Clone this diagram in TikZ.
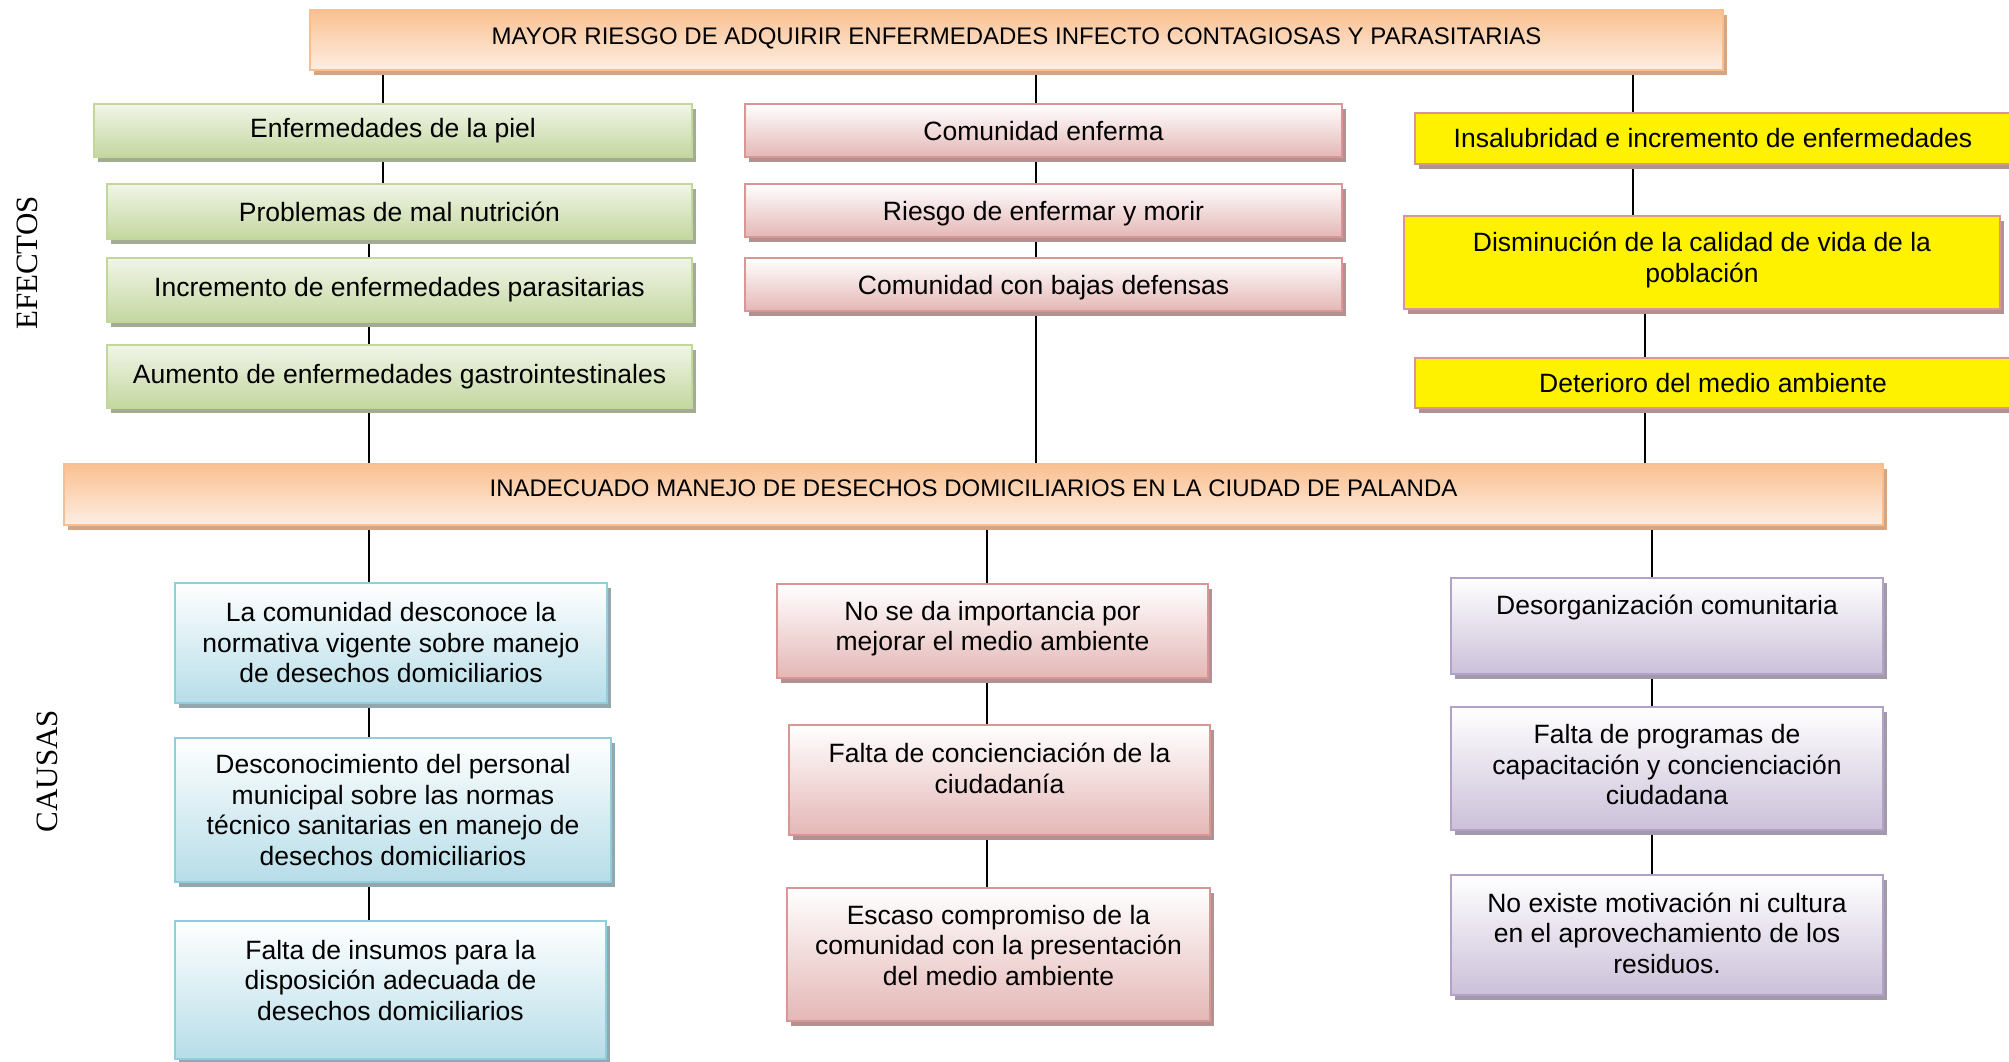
\documentclass[tikz,border=0pt]{standalone}
\usepackage{fontspec}
\setmainfont{Liberation Sans}
\newfontfamily\tnr{Liberation Serif}
\usetikzlibrary{shadows}
\pgfdeclarelayer{background}
\pgfsetlayers{background,main}
\definecolor{orTop}{HTML}{FAC090}
\definecolor{orBot}{HTML}{FDEEE3}
\definecolor{orBd}{HTML}{F9BE8F}
\definecolor{orSh}{HTML}{D3A583}
\definecolor{grTop}{HTML}{F0F5E8}
\definecolor{grBot}{HTML}{C4D79F}
\definecolor{grBd}{HTML}{C3D69B}
\definecolor{grSh}{HTML}{A2AC93}
\definecolor{pkBot}{HTML}{E4B7B6}
\definecolor{pkBd}{HTML}{D99694}
\definecolor{pkSh}{HTML}{B09292}
\definecolor{blBot}{HTML}{B6DDE8}
\definecolor{blBd}{HTML}{92CDDC}
\definecolor{blSh}{HTML}{93A8AE}
\definecolor{puBot}{HTML}{CBC0D9}
\definecolor{puBd}{HTML}{B2A2C7}
\definecolor{puSh}{HTML}{A29AAB}
\newcommand\lowr[1]{\rule[-#1pt]{0pt}{#1pt}}
\tikzset{
  bx/.style={rectangle, inner sep=0pt, line width=2pt, align=center,
    font=\fontsize{26.5}{30.5}\selectfont},
  sh/.style={general shadow={fill=#1, shadow xshift=4pt, shadow yshift=-5pt}},
  orbox/.style={bx, draw=orBd, top color=orTop, bottom color=orBot, sh=orSh,
    font=\fontsize{24}{28}\selectfont},
  grbox/.style={bx, draw=grBd, top color=grTop, bottom color=grBot, sh=grSh},
  pkbox/.style={bx, draw=pkBd, top color=white, bottom color=pkBot, sh=pkSh},
  ylbox/.style={bx, draw=pkBd, fill=yellow, sh=pkSh},
  blbox/.style={bx, draw=blBd, top color=white, bottom color=blBot, sh=blSh},
  pubox/.style={bx, draw=puBd, top color=white, bottom color=puBot, sh=puSh},
  oneline/.style={text height=19.5pt, text depth=0pt},
  conn/.style={line width=1.5pt, black},
  lbl/.style={inner sep=0pt, font=\tnr\fontsize{31}{36}\selectfont}
}
\begin{document}
\begin{tikzpicture}[x=1pt, y=-1pt]
\useasboundingbox (0,0) rectangle (2009,1062);
\clip (0,0) rectangle (2009,1062);

% main problem boxes
\node[orbox, minimum width=1413pt, minimum height=60pt] (T) at (1016.5,40)
  {MAYOR RIESGO DE ADQUIRIR ENFERMEDADES INFECTO CONTAGIOSAS Y PARASITARIAS\lowr{8}};
\node[orbox, minimum width=1819pt, minimum height=61pt] (M) at (973.5,494.5)
  {INADECUADO MANEJO DE DESECHOS DOMICILIARIOS EN LA CIUDAD DE PALANDA\lowr{12}};

% effects - green
\node[grbox, minimum width=598pt, minimum height=53pt] (g1) at (393,130.5) {Enfermedades de la piel};
\node[grbox, minimum width=585pt, minimum height=55pt] (g2) at (399.5,211.5) {Problemas de mal nutrición};
\node[grbox, minimum width=585pt, minimum height=64pt] (g3) at (399.5,290) {Incremento de enfermedades parasitarias};
\node[grbox, minimum width=585pt, minimum height=63pt] (g4) at (399.5,376.5) {Aumento de enfermedades gastrointestinales};

% effects - pink
\node[pkbox, oneline, minimum width=597pt, minimum height=53pt] (p1) at (1043.5,130.5) {Comunidad enferma};
\node[pkbox, oneline, minimum width=597pt, minimum height=53pt] (p2) at (1043.5,210.5) {Riesgo de enfermar y morir};
\node[pkbox, oneline, minimum width=597pt, minimum height=53pt] (p3) at (1043.5,284.5) {Comunidad con bajas defensas};

% effects - yellow
\node[ylbox, minimum width=596pt, minimum height=51pt] (y1) at (1713,138.5) {Insalubridad e incremento de enfermedades};
\node[ylbox, minimum width=596pt, minimum height=93pt] (y2) at (1702,262.5) {Disminución de la calidad de vida de la\\población\lowr{11}};
\node[ylbox, minimum width=596pt, minimum height=50pt] (y3) at (1713,383) {Deterioro del medio ambiente};

% causes - blue
\node[blbox, minimum width=432pt, minimum height=120pt] (b1) at (391,643)
  {La comunidad desconoce la\\normativa vigente sobre manejo\\de desechos domiciliarios};
\node[blbox, minimum width=436pt, minimum height=144pt] (b2) at (393,810)
  {Desconocimiento del personal\\municipal sobre las normas\\técnico sanitarias en manejo de\\desechos domiciliarios};
\node[blbox, minimum width=431pt, minimum height=138pt] (b3) at (390.5,990)
  {Falta de insumos para la\\disposición adecuada de\\desechos domiciliarios\lowr{20}};

% causes - pink
\node[pkbox, minimum width=431pt, minimum height=94pt] (q1) at (992.5,631)
  {No se da importancia por\\mejorar el medio ambiente\lowr{10}};
\node[pkbox, minimum width=421pt, minimum height=110pt] (q2) at (999.5,780)
  {Falta de concienciación de la\\ciudadanía\lowr{24}};
\node[pkbox, minimum width=423pt, minimum height=133pt] (q3) at (998.5,954.5)
  {Escaso compromiso de la\\comunidad con la presentación\\del medio ambiente\lowr{19}};

% causes - purple
\node[pubox, minimum width=432pt, minimum height=96pt] (u1) at (1667,626)
  {Desorganización comunitaria\lowr{42}};
\node[pubox, minimum width=432pt, minimum height=123pt] (u2) at (1667,768.5)
  {Falta de programas de\\capacitación y concienciación\\ciudadana\lowr{8}};
\node[pubox, minimum width=432pt, minimum height=120pt] (u3) at (1667,935)
  {No existe motivación ni cultura\\en el aprovechamiento de los\\residuos.\lowr{4}};

% side labels
\node[lbl, rotate=90] (ef) at (27,263) {EFECTOS};
\node[lbl, rotate=90] (ca) at (47,771) {CAUSAS};

% connector columns
\coordinate (xgA) at (383,0);
\coordinate (xgB) at (369,0);
\coordinate (xp) at (1036,0);
\coordinate (xyA) at (1633,0);
\coordinate (xyB) at (1645,0);
\coordinate (xb) at (369,0);
\coordinate (xq) at (987,0);
\coordinate (xu) at (1652,0);

\begin{pgfonlayer}{background}
\draw[conn] (T.south -| xgA) -- (g1.north -| xgA);
\draw[conn] (g1.south -| xgA) -- (g2.north -| xgA);
\draw[conn] (g2.south -| xgB) -- (g3.north -| xgB);
\draw[conn] (g3.south -| xgB) -- (g4.north -| xgB);
\draw[conn] (g4.south -| xgB) -- (M.north -| xgB);
\draw[conn] (T.south -| xp) -- (p1.north -| xp);
\draw[conn] (p1.south -| xp) -- (p2.north -| xp);
\draw[conn] (p2.south -| xp) -- (p3.north -| xp);
\draw[conn] (p3.south -| xp) -- (M.north -| xp);
\draw[conn] (T.south -| xyA) -- (y1.north -| xyA);
\draw[conn] (y1.south -| xyA) -- (y2.north -| xyA);
\draw[conn] (y2.south -| xyB) -- (y3.north -| xyB);
\draw[conn] (y3.south -| xyB) -- (M.north -| xyB);
\draw[conn] (M.south -| xb) -- (b1.north -| xb);
\draw[conn] (b1.south -| xb) -- (b2.north -| xb);
\draw[conn] (b2.south -| xb) -- (b3.north -| xb);
\draw[conn] (M.south -| xq) -- (q1.north -| xq);
\draw[conn] (q1.south -| xq) -- (q2.north -| xq);
\draw[conn] (q2.south -| xq) -- (q3.north -| xq);
\draw[conn] (M.south -| xu) -- (u1.north -| xu);
\draw[conn] (u1.south -| xu) -- (u2.north -| xu);
\draw[conn] (u2.south -| xu) -- (u3.north -| xu);
\end{pgfonlayer}
\end{tikzpicture}
\end{document}
